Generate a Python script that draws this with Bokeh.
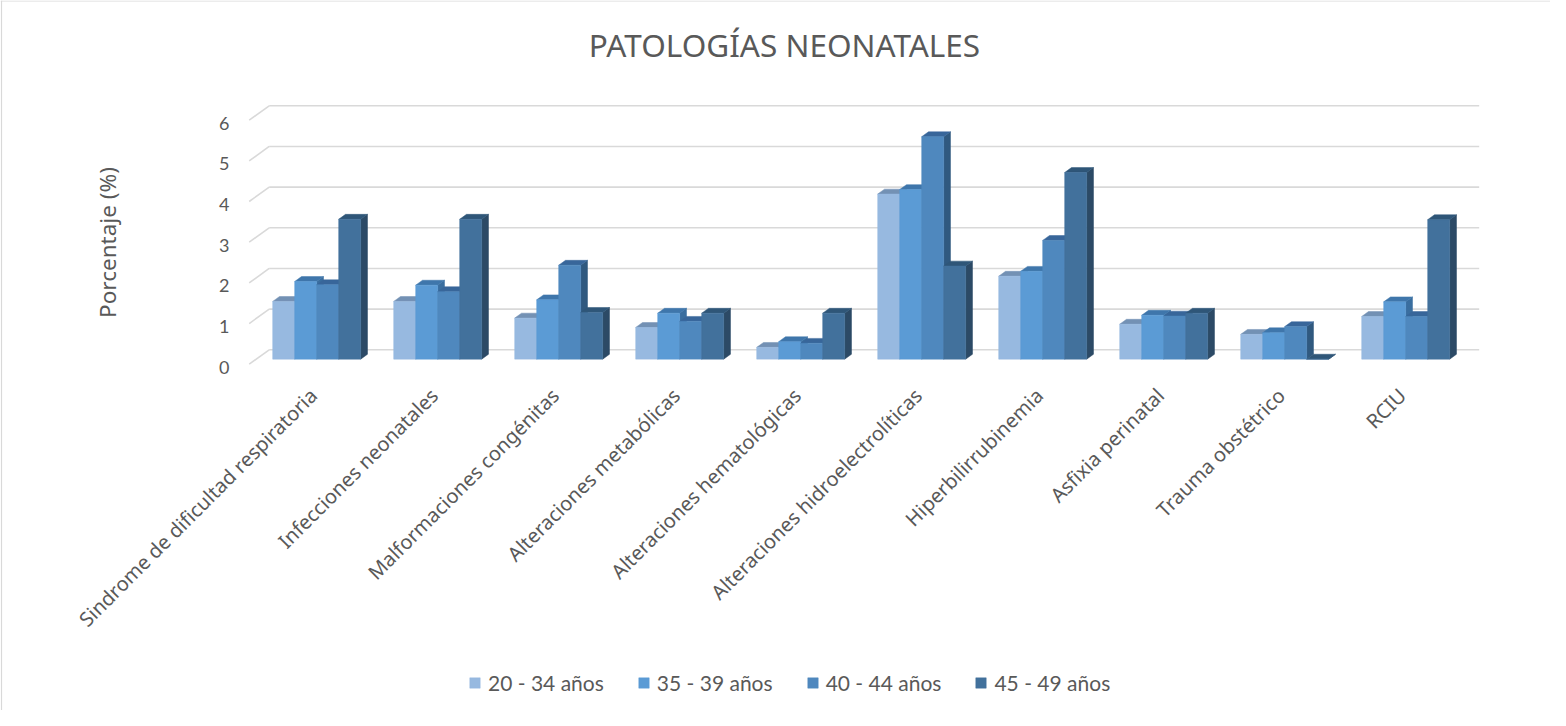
import math
from bokeh.plotting import figure
from bokeh.models import Range1d, Span, Legend, LegendItem
from bokeh.core.properties import value
from bokeh.embed import file_html
from bokeh.resources import INLINE

# ---------------- data ----------------
categories = [
    "Sindrome de dificultad respiratoria",
    "Infecciones neonatales",
    "Malformaciones congénitas",
    "Alteraciones metabólicas",
    "Alteraciones hematológicas",
    "Alteraciones hidroelectrolíticas",
    "Hiperbilirrubinemia",
    "Asfixia perinatal",
    "Trauma obstétrico",
    "RCIU",
]
series_names = ["20 - 34 años", "35 - 39 años", "40 - 44 años", "45 - 49 años"]
vals_20_34 = [1.42, 1.42, 1.01, 0.78, 0.29, 4.06, 2.04, 0.86, 0.61, 1.05]
vals_35_39 = [1.91, 1.82, 1.46, 1.13, 0.43, 4.17, 2.16, 1.08, 0.65, 1.41]
vals_40_44 = [1.83, 1.66, 2.31, 0.93, 0.39, 5.47, 2.92, 1.06, 0.80, 1.05]
vals_45_49 = [3.44, 3.44, 1.15, 1.13, 1.13, 2.29, 4.59, 1.13, 0.00, 3.43]
y_ticks = [0, 1, 2, 3, 4, 5, 6]
title_text = "PATOLOGÍAS NEONATALES"
y_title = "Porcentaje (%)"

series_values = [vals_20_34, vals_35_39, vals_40_44, vals_45_49]
front_colors = ["#97B9E0", "#5B9BD5", "#4F88BE", "#42719C"]
top_colors = ["#7391B4", "#3F76AB", "#38669A", "#2F5678"]
side_colors = ["#6E8DB3", "#3A6E9F", "#30597F", "#2C4A66"]

# ---------------- geometry (layout only) ----------------
W, H = 1550, 710
px_x = 121.0          # pixels per category
px_y = 40.67          # pixels per value unit
x0_img, y0_img = 256.7, 371.7   # front-left floor corner in page pixels
x_start = (8 - x0_img) / px_x
x_end = x_start + W / px_x
y_end = (y0_img - 8) / px_y
y_start = y_end - H / px_y

ddx = 20.0 / px_x     # depth offset (full depth) in data units
ddy = 14.4 / px_y
zf, zb = 0.35, 0.69   # bar front / back depth fractions
bar_w = 0.1818
g_off = (1 - 4 * bar_w) / 2
n = len(categories)

p = figure(width=W, height=H, output_backend="svg", toolbar_location=None,
           x_range=Range1d(x_start, x_end), y_range=Range1d(y_start, y_end),
           x_axis_location=None, y_axis_location=None, min_border=0)
p.grid.visible = False
p.outline_line_color = None
p.background_fill_color = "white"
p.border_fill_color = "white"

# chart border (top / left visible)
p.add_layout(Span(location=y_end - 0.5 / px_y, dimension="width",
                  line_color="#D9D9D9", line_width=1.2))
p.add_layout(Span(location=x_start + 1.0 / px_x, dimension="height",
                  line_color="#D9D9D9", line_width=1.2))

# back-wall gridlines and left-wall diagonals
gx0 = [ddx for t in y_ticks]
gx1 = [n + ddx for t in y_ticks]
gy = [t + ddy for t in y_ticks]
p.segment(x0=gx0, y0=gy, x1=gx1, y1=gy, line_color="#D9D9D9", line_width=1.6)
p.segment(x0=[0] * len(y_ticks), y0=y_ticks, x1=gx0, y1=gy,
          line_color="#D9D9D9", line_width=1.6)

# tick labels
p.text(x=[-0.163] * len(y_ticks), y=[t - 0.07 for t in y_ticks],
       text=[str(t) for t in y_ticks], text_align="right", text_baseline="middle",
       text_font=value("Lato"), text_font_size="18px", text_color="#595959")

# bars (pseudo 3D)
legend_items = []
for j, vals in enumerate(series_values):
    sx, sy, tx, ty = [], [], [], []
    fl, fr, fb, ft = [], [], [], []
    for i, v in enumerate(vals):
        a = i + g_off + j * bar_w
        b = a + bar_w
        sx.append([b + zf * ddx, b + zb * ddx, b + zb * ddx, b + zf * ddx])
        sy.append([zf * ddy, zb * ddy, v + zb * ddy, v + zf * ddy])
        tx.append([a + zf * ddx, b + zf * ddx, b + zb * ddx, a + zb * ddx])
        ty.append([v + zf * ddy, v + zf * ddy, v + zb * ddy, v + zb * ddy])
        fl.append(a + zf * ddx)
        fr.append(b + zf * ddx)
        fb.append(zf * ddy)
        ft.append(v + zf * ddy)
    p.patches(xs=sx, ys=sy, fill_color=side_colors[j], line_color=side_colors[j], line_width=0.5)
    p.patches(xs=tx, ys=ty, fill_color=top_colors[j], line_color=top_colors[j], line_width=0.5)
    r = p.quad(left=fl, right=fr, bottom=fb, top=ft,
               fill_color=front_colors[j], line_color=front_colors[j], line_width=0.5)
    legend_items.append(LegendItem(label=series_names[j], renderers=[r]))

# category labels
p.text(x=[i + 0.53 for i in range(n)], y=[-0.68] * n, text=categories,
       angle=math.pi / 4, text_align="right", text_baseline="middle",
       text_font=value("Noto Sans"), text_font_size="20px", text_color="#595959")

# axis title
p.text(x=[(115 - x0_img) / px_x], y=[(y0_img - 250) / px_y], text=[y_title],
       angle=math.pi / 2, text_align="center", text_baseline="middle",
       text_font=value("Noto Sans"), text_font_size="22.5px", text_color="#595959")

# chart title
p.text(x=[(792 - x0_img) / px_x], y=[(y0_img - 52) / px_y], text=[title_text],
       text_align="center", text_baseline="middle",
       text_font=value("Noto Sans"), text_font_size="31.5px", text_color="#595959")

legend = Legend(items=legend_items, orientation="horizontal", location=(468, 15),
                glyph_width=13, glyph_height=13, label_standoff=7, spacing=33,
                padding=0, margin=0, border_line_color=None, background_fill_alpha=0,
                label_text_font="Lato", label_text_font_size="21px",
                label_text_color="#595959")
p.add_layout(legend)

open("out.html", "w").write(file_html(p, INLINE))
